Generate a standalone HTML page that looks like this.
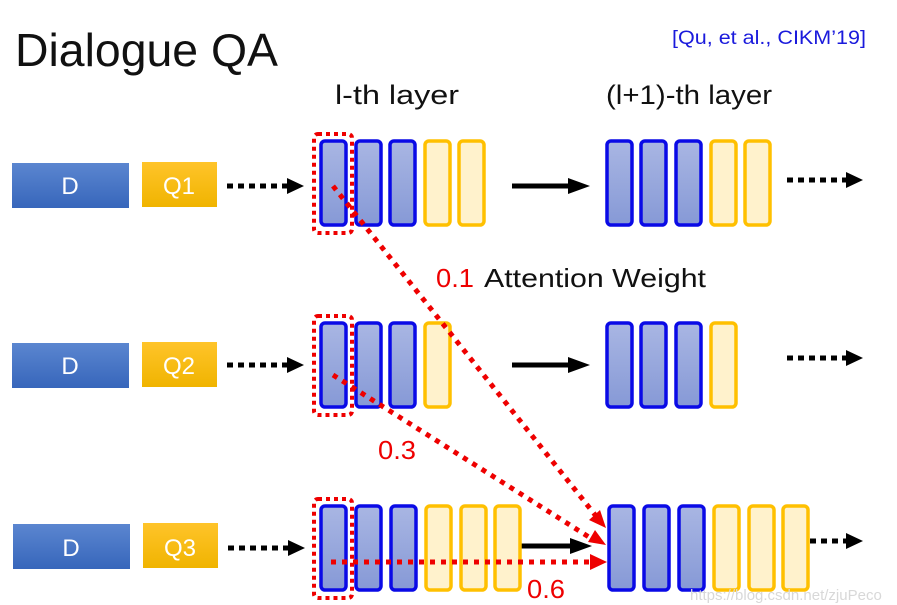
<!DOCTYPE html>
<html><head><meta charset="utf-8"><style>
html,body{margin:0;padding:0;background:#fff;}
svg{display:block;}
text{font-family:"Liberation Sans",sans-serif;}
</style></head><body>
<svg width="897" height="605" viewBox="0 0 897 605" xmlns="http://www.w3.org/2000/svg">
<defs>
<linearGradient id="gd" x1="0" y1="0" x2="0" y2="1"><stop offset="0" stop-color="#5b86d0"/><stop offset="1" stop-color="#3766bb"/></linearGradient>
<linearGradient id="gq" x1="0" y1="0" x2="0" y2="1"><stop offset="0" stop-color="#ffc42a"/><stop offset="1" stop-color="#f0b400"/></linearGradient>
<linearGradient id="gb" x1="0" y1="0" x2="0" y2="1"><stop offset="0" stop-color="#a9b6e3"/><stop offset="1" stop-color="#8699d6"/></linearGradient>
</defs>
<text x="15" y="66" font-size="46" fill="#111" textLength="263" lengthAdjust="spacingAndGlyphs">Dialogue QA</text>
<text x="672" y="44" font-size="19" fill="#1a1adc" textLength="194" lengthAdjust="spacingAndGlyphs">[Qu, et al., CIKM’19]</text>
<text x="335" y="104" font-size="27" fill="#111" textLength="124" lengthAdjust="spacingAndGlyphs">l-th layer</text>
<text x="606" y="104" font-size="27" fill="#111" textLength="166" lengthAdjust="spacingAndGlyphs">(l+1)-th layer</text>

<g font-size="24" fill="#fff" text-anchor="middle">
<rect x="12" y="163" width="117" height="45" fill="url(#gd)"/><text x="70" y="194">D</text>
<rect x="142" y="162" width="75" height="45" fill="url(#gq)"/><text x="179" y="194">Q1</text>
<rect x="12" y="343" width="117" height="45" fill="url(#gd)"/><text x="70" y="374">D</text>
<rect x="142" y="342" width="75" height="45" fill="url(#gq)"/><text x="179" y="374">Q2</text>
<rect x="13" y="524" width="117" height="45" fill="url(#gd)"/><text x="71" y="556">D</text>
<rect x="143" y="523" width="75" height="45" fill="url(#gq)"/><text x="180" y="556">Q3</text>
</g>

<g stroke="#000" stroke-width="5" stroke-dasharray="6,5" fill="none">
<line x1="227" y1="186" x2="288" y2="186"/>
<line x1="227" y1="365" x2="288" y2="365"/>
<line x1="228" y1="548" x2="289" y2="548"/>
<line x1="787" y1="180" x2="848" y2="180"/>
<line x1="787" y1="358" x2="848" y2="358"/>
<line x1="810" y1="541" x2="848" y2="541"/>
</g>
<g fill="#000">
<polygon points="287,178 304,186 287,194"/>
<polygon points="287,357 304,365 287,373"/>
<polygon points="288,540 305,548 288,556"/>
<polygon points="846,172 863,180 846,188"/>
<polygon points="846,350 863,358 846,366"/>
<polygon points="846,533 863,541 846,549"/>
<polygon points="568,178 590,186 568,194"/>
<polygon points="568,357 590,365 568,373"/>
<polygon points="570,538 592,546 570,554"/>
</g>
<g stroke="#000" stroke-width="5">
<line x1="512" y1="186" x2="572" y2="186"/>
<line x1="512" y1="365" x2="572" y2="365"/>
<line x1="520" y1="546" x2="574" y2="546"/>
</g>

<g stroke-width="3.5">
<g stroke="#0a0ae6" fill="url(#gb)">
<rect x="321" y="141" width="25" height="84" rx="4"/><rect x="356" y="141" width="25" height="84" rx="4"/><rect x="390" y="141" width="25" height="84" rx="4"/>
<rect x="607" y="141" width="25" height="84" rx="4"/><rect x="641" y="141" width="25" height="84" rx="4"/><rect x="676" y="141" width="25" height="84" rx="4"/>
<rect x="321" y="323" width="25" height="84" rx="4"/><rect x="356" y="323" width="25" height="84" rx="4"/><rect x="390" y="323" width="25" height="84" rx="4"/>
<rect x="607" y="323" width="25" height="84" rx="4"/><rect x="641" y="323" width="25" height="84" rx="4"/><rect x="676" y="323" width="25" height="84" rx="4"/>
<rect x="321" y="506" width="25" height="84" rx="4"/><rect x="356" y="506" width="25" height="84" rx="4"/><rect x="391" y="506" width="25" height="84" rx="4"/>
<rect x="609" y="506" width="25" height="84" rx="4"/><rect x="644" y="506" width="25" height="84" rx="4"/><rect x="679" y="506" width="25" height="84" rx="4"/>
</g>
<g stroke="#ffc000" fill="#fff2cc">
<rect x="425" y="141" width="25" height="84" rx="4"/><rect x="459" y="141" width="25" height="84" rx="4"/>
<rect x="711" y="141" width="25" height="84" rx="4"/><rect x="745" y="141" width="25" height="84" rx="4"/>
<rect x="425" y="323" width="25" height="84" rx="4"/>
<rect x="711" y="323" width="25" height="84" rx="4"/>
<rect x="426" y="506" width="25" height="84" rx="4"/><rect x="461" y="506" width="25" height="84" rx="4"/><rect x="495" y="506" width="25" height="84" rx="4"/>
<rect x="714" y="506" width="25" height="84" rx="4"/><rect x="749" y="506" width="25" height="84" rx="4"/><rect x="783" y="506" width="25" height="84" rx="4"/>
</g>
</g>

<g stroke="#ee0000" stroke-width="4" fill="none" stroke-dasharray="4,4">
<rect x="314" y="134" width="38" height="99" rx="4"/>
<rect x="314" y="316" width="38" height="99" rx="4"/>
<rect x="314" y="499" width="38" height="99" rx="4"/>
</g>
<g stroke="#ee0000" stroke-width="5" fill="none" stroke-dasharray="5,6">
<line x1="333" y1="186" x2="596" y2="516"/>
<line x1="333" y1="375" x2="592" y2="539"/>
<line x1="331" y1="562" x2="592" y2="562"/>
</g>
<g fill="#ee0000">
<polygon points="606,528 589,520 600,510"/>
<polygon points="606,545 588,542 595,530"/>
<polygon points="607,562 590,554 590,570"/>
</g>
<text x="436" y="287" font-size="26" fill="#e00" textLength="38" lengthAdjust="spacingAndGlyphs">0.1</text>
<text x="484" y="287" font-size="26" fill="#111" textLength="222" lengthAdjust="spacingAndGlyphs">Attention Weight</text>
<text x="378" y="459" font-size="26" fill="#e00" textLength="38" lengthAdjust="spacingAndGlyphs">0.3</text>
<text x="527" y="598" font-size="26" fill="#e00" textLength="38" lengthAdjust="spacingAndGlyphs">0.6</text>
<text x="690" y="600" font-size="15" fill="#d8d8d8">https://blog.csdn.net/zjuPeco</text>
</svg>
</body></html>
